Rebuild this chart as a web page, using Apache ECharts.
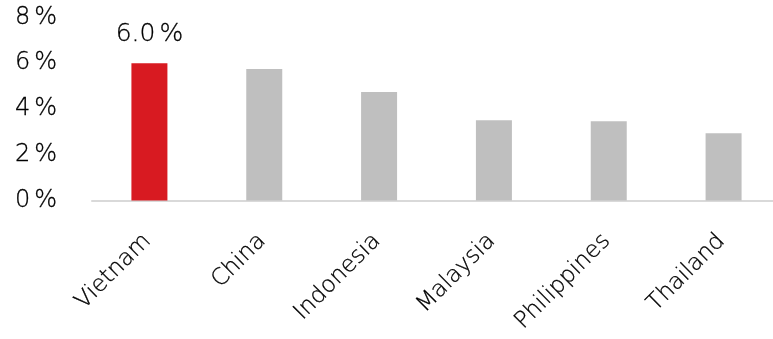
<!DOCTYPE html>
<html>
<head>
<meta charset="utf-8">
<script src="https://cdn.jsdelivr.net/npm/echarts@6/dist/echarts.min.js"></script>
<style>
  html, body { margin: 0; padding: 0; background: #ffffff; }
  #chart { width: 773px; height: 339px; }
</style>
</head>
<body>
<div id="chart"></div>
<script>
// GDP growth by country (%)
const countries = ['Vietnam', 'China', 'Indonesia', 'Malaysia', 'Philippines', 'Thailand'];
const growth = [6.0, 5.75, 4.74, 3.51, 3.46, 2.94];
const highlighted = 'Vietnam';
const yTicks = { min: 0, max: 8, interval: 2 };

const FONT = 'DejaVu Sans';
const WEIGHT = 200;
const TEXT_COLOR = '#000000';

// thin glyphs, given a hairline outline so they read a touch darker
const textBase = (size) => ({
  fontFamily: FONT,
  fontWeight: WEIGHT,
  fontSize: size,
  color: TEXT_COLOR,
  textBorderColor: TEXT_COLOR,
  textBorderWidth: 0.3
});

// percent sign set a little apart from the number
const pctRich = (size) => ({
  n: textBase(size),
  p: Object.assign(textBase(size), { padding: [0, 0, 0, 4] })
});

const chart = echarts.init(document.getElementById('chart'), null, { renderer: 'canvas' });

chart.setOption({
  animation: false,
  grid: { left: 92, top: 17.5, width: 689, height: 183, containLabel: false, outerBoundsMode: 'none' },
  xAxis: {
    type: 'category',
    data: countries,
    axisLine: { show: true, lineStyle: { color: '#d9d9d9', width: 2 } },
    axisTick: { show: false },
    axisLabel: Object.assign(textBase(23), {
      rotate: 45,
      interval: 0,
      margin: 35,
      padding: [0, 3, 0, 0]
    })
  },
  yAxis: {
    type: 'value',
    min: yTicks.min,
    max: yTicks.max,
    interval: yTicks.interval,
    splitLine: { show: false },
    axisLine: { show: false },
    axisTick: { show: false },
    axisLabel: {
      margin: 35,
      formatter: v => '{n|' + v + '}{p|%}',
      rich: pctRich(24)
    }
  },
  series: [{
    type: 'bar',
    barWidth: 36,
    data: countries.map((c, i) => ({
      value: growth[i],
      itemStyle: { color: c === highlighted ? '#d81a21' : '#bfbfbf' },
      label: c === highlighted ? {
        show: true,
        position: 'top',
        distance: 16,
        formatter: p => '{n|' + p.value.toFixed(1) + '}{p|%}',
        rich: pctRich(25)
      } : { show: false }
    }))
  }]
});
</script>
</body>
</html>
